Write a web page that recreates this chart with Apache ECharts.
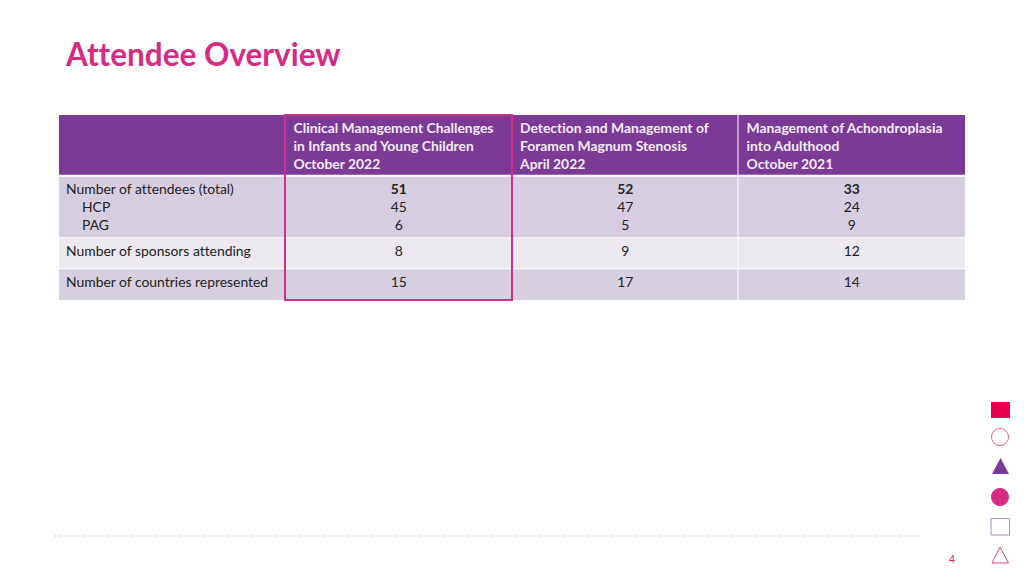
<!DOCTYPE html>
<html><head><meta charset="utf-8">
<style>html,body{margin:0;padding:0;background:#fff}#c{width:1024px;height:576px}#c text{font-variant-ligatures:none}</style>
<script src="https://cdn.jsdelivr.net/npm/echarts@6/dist/echarts.min.js"></script>
</head><body><div id="c"></div>
<script>
const pageTitle = 'Attendee Overview';
const pageNumber = '4';
const columnKeys = ['label', 'event2022b', 'event2022a', 'event2021'];
const headerEvent2022b = ['Clinical Management Challenges', 'in Infants and Young Children', 'October 2022'];
const headerEvent2022a = ['Detection and Management of', 'Foramen Magnum Stenosis', 'April 2022'];
const headerEvent2021 = ['Management of Achondroplasia', 'into Adulthood', 'October 2021'];
const rowNames = ['Number of attendees (total)', 'HCP', 'PAG', 'Number of sponsors attending', 'Number of countries represented'];
const valuesEvent2022b = [51, 45, 6, 8, 15];
const valuesEvent2022a = [52, 47, 5, 9, 17];
const valuesEvent2021 = [33, 24, 9, 12, 14];
const rowLineCounts = [3, 3, 1.5, 1.5];

const FONT = 'Lato, "Open Sans", sans-serif';
const headers = [[], headerEvent2022b, headerEvent2022a, headerEvent2021];
const vals = [rowNames, valuesEvent2022b, valuesEvent2022a, valuesEvent2021];
const rowFills = ['#7B3A96', '#D6CEE0', '#ECE8F0', '#D5CFE0'];
const rowItems = [[], [0, 1, 2], [3], [4]];
const rowTextShift = [-0.5, -1, -3.5, -3];
const starts = rowLineCounts.reduce((a, n) => (a.push(a[a.length - 1] + n), a), [0]);
const cells = [];
columnKeys.forEach((k, c) => rowLineCounts.forEach((n, r) => cells.push([c, r])));

function renderCell(params, api) {
  const c = api.value(0), r = api.value(1);
  const band = api.size([1, 0])[0];
  const cx = api.coord([c, 0])[0];
  const top = api.coord([c, starts[r]])[1];
  const bot = api.coord([c, starts[r + 1]])[1];
  const left = cx - band / 2;
  const gapBelow = r === 0 ? 2 : (r === 3 ? 0 : 1);
  const children = [{
    type: 'rect',
    shape: { x: left, y: top, width: band - (c < 3 ? 1 : 0), height: bot - top - gapBelow },
    style: { fill: rowFills[r] }
  }];
  const mid = (top + bot) / 2 + rowTextShift[r];
  let lines;
  if (r === 0) lines = headers[c].map((t) => ({ t, bold: true, indent: 0 }));
  else lines = rowItems[r].map((idx, i) => ({
    t: String(vals[c][idx]),
    bold: c > 0 && r === 1 && i === 0,
    indent: (c === 0 && r === 1 && i > 0) ? 16 : 0
  }));
  lines.forEach((l, i) => {
    const y = mid + (i - (lines.length - 1) / 2) * 18;
    const isHead = r === 0;
    const alignLeft = isHead || c === 0;
    const x = alignLeft ? left + (isHead ? 8 : 7) + l.indent : cx;
    children.push({
      type: 'text',
      style: {
        x, y, text: l.t,
        fill: isHead ? '#F3ECF6' : '#222222',
        fontFamily: FONT, fontSize: 13.9,
        fontWeight: l.bold ? 'bold' : 'normal',
        align: alignLeft ? 'left' : 'center',
        verticalAlign: 'middle'
      }
    });
  });
  return { type: 'group', children };
}

const chart = echarts.init(document.getElementById('c'), null, { renderer: 'svg' });
chart.setOption({
  animation: false,
  backgroundColor: '#ffffff',
  title: {
    text: pageTitle, left: 61, top: 33,
    textStyle: { fontFamily: FONT, fontSize: 31.5, fontWeight: 'bold', color: '#D62B84' }
  },
  grid: { left: 59, top: 115, width: 906, height: 185 },
  xAxis: { type: 'category', data: columnKeys, show: false },
  yAxis: { type: 'value', inverse: true, min: 0, max: starts[starts.length - 1], show: false },
  series: [{ type: 'custom', renderItem: renderCell, data: cells, encode: { x: 0, y: 1 }, silent: true, clip: false }],
  graphic: [
    { type: 'rect', shape: { x: 285, y: 115, width: 227, height: 185 }, style: { fill: 'none', stroke: '#CE2F87', lineWidth: 2 }, z: 10 },
    { type: 'line', shape: { x1: 55, y1: 536, x2: 920, y2: 536 }, style: { stroke: '#A8A8A8', lineWidth: 1, lineDash: [1, 2] } },
    { type: 'text', style: { x: 952, y: 558.5, text: pageNumber, fill: '#D62B84', fontFamily: FONT, fontSize: 11, align: 'center', verticalAlign: 'middle' } },
    { type: 'rect', shape: { x: 991, y: 402, width: 19, height: 16 }, style: { fill: '#E8004F' } },
    { type: 'circle', shape: { cx: 1000, cy: 437, r: 8.5 }, style: { fill: '#fff', stroke: '#D9668F', lineWidth: 1 } },
    { type: 'polygon', shape: { points: [[1000.5, 458], [992, 474], [1009, 474]] }, style: { fill: '#7B3A96' } },
    { type: 'circle', shape: { cx: 1000, cy: 497, r: 9 }, style: { fill: '#D62B84' } },
    { type: 'rect', shape: { x: 991, y: 518.5, width: 18.5, height: 16.5 }, style: { fill: '#fff', stroke: '#B08ABF', lineWidth: 1 } },
    { type: 'polygon', shape: { points: [[1000, 547], [992, 563], [1008.5, 563]] }, style: { fill: '#fff', stroke: '#E0457F', lineWidth: 1 } }
  ]
});
</script></body></html>
